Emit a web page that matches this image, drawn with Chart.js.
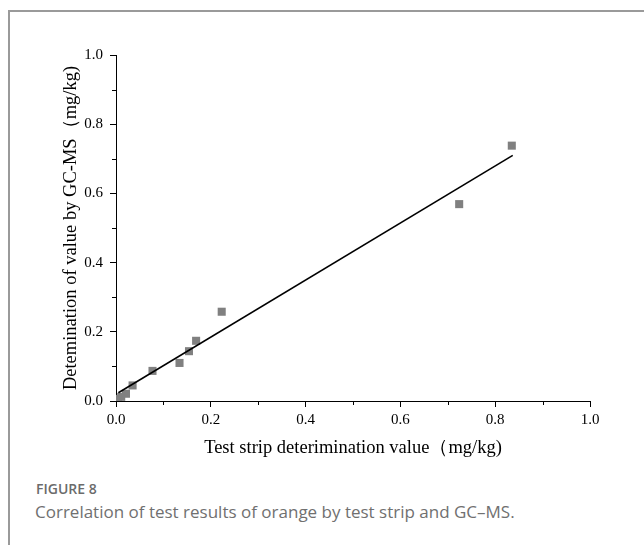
<!DOCTYPE html>
<html>
<head>
<meta charset="utf-8">
<script src="https://cdn.jsdelivr.net/npm/chart.js@4.4.1/dist/chart.umd.min.js"></script>
<style>
  html, body { margin: 0; padding: 0; background: #fff; }
  body { width: 644px; height: 545px; position: relative; overflow: hidden; }
  #frame { position: absolute; left: 8px; top: 10px; width: 700px; height: 600px;
           border-top: 2px solid #9a9a9a; border-left: 2px solid #9a9a9a; }
  #chart { position: absolute; left: 0; top: 0; }
  .fig { position: absolute; left: 36px; top: 479px; font-family: "Open Sans", sans-serif;
         font-weight: 600; font-size: 14px; color: #6b6b6b; }
  .cap { position: absolute; left: 35px; top: 500px; font-family: "Open Sans", sans-serif;
         font-size: 17px; color: #707070; white-space: nowrap; }
</style>
</head>
<body>
<div id="frame"></div>
<canvas id="chart" width="644" height="470"></canvas>
<div class="fig">FIGURE 8</div>
<div class="cap">Correlation of test results of orange by test strip and GC–MS.</div>
<script>
// measured samples: test strip value vs GC-MS value (mg/kg)
const stripValues = [0.004, 0.011, 0.021, 0.035, 0.077, 0.134, 0.154, 0.169, 0.223, 0.724, 0.835];
const gcmsValues  = [0.006, 0.012, 0.021, 0.045, 0.087, 0.110, 0.144, 0.174, 0.258, 0.569, 0.738];

// fitted line end points
const fitX = [0.005, 0.837];
const fitY = [0.024, 0.710];

const xTickLabels = ['0.0', '0.2', '0.4', '0.6', '0.8', '1.0'];
const yTickLabels = ['0.0', '0.2', '0.4', '0.6', '0.8', '1.0'];

const xTitle = 'Test strip deterimination value（mg/kg)';
const yTitle = 'Detemination of value by GC-MS（mg/kg)';

const serif = '"Liberation Serif", "Times New Roman", serif';

// short minor ticks half way between the major ones
const minorTicks = {
  id: 'minorTicks',
  afterDraw(chart) {
    const ctx = chart.ctx;
    ctx.save();
    ctx.strokeStyle = '#000';
    ctx.lineWidth = 1;
    ['x', 'y'].forEach(id => {
      const s = chart.scales[id];
      const t = s.ticks;
      for (let i = 0; i < t.length - 1; i++) {
        const mid = (t[i].value + t[i + 1].value) / 2;
        const p = Math.round(s.getPixelForValue(mid)) + 0.5;
        ctx.beginPath();
        if (id === 'x') {
          ctx.moveTo(p, s.top);
          ctx.lineTo(p, s.top + 4);
        } else {
          ctx.moveTo(s.right, p);
          ctx.lineTo(s.right - 4, p);
        }
        ctx.stroke();
      }
    });
    ctx.restore();
  }
};

const ctx = document.getElementById('chart').getContext('2d');
new Chart(ctx, {
  type: 'scatter',
  data: {
    datasets: [
      {
        type: 'line',
        data: fitX.map((x, i) => ({ x: x, y: fitY[i] })),
        borderColor: '#000',
        borderWidth: 1.6,
        pointRadius: 0,
        fill: false,
        order: 0
      },
      {
        data: stripValues.map((x, i) => ({ x: x, y: gcmsValues[i] })),
        pointStyle: 'rect',
        pointRadius: 5.7,
        backgroundColor: '#808080',
        borderWidth: 0,
        order: 1
      }
    ]
  },
  options: {
    responsive: false,
    animation: false,
    devicePixelRatio: 1,
    layout: { padding: { top: 55, right: 54, left: 0, bottom: 0 } },
    plugins: {
      legend: { display: false },
      tooltip: { enabled: false }
    },
    scales: {
      x: {
        type: 'linear',
        position: 'bottom',
        min: 0,
        max: 1,
        afterFit: s => { s.height = 69; },
        ticks: {
          stepSize: 0.2,
          autoSkip: false,
          maxRotation: 0,
          padding: 4,
          color: '#000',
          font: { family: serif, size: 15 },
          callback: (v, i) => xTickLabels[i]
        },
        grid: { drawOnChartArea: false, drawTicks: true, tickLength: 6, tickColor: '#000' },
        border: { display: true, color: '#000', width: 1 },
        title: {
          display: true,
          text: xTitle,
          color: '#000',
          font: { family: serif, size: 18.5 },
          padding: { top: 0, bottom: 11 }
        }
      },
      y: {
        type: 'linear',
        position: 'left',
        min: 0,
        max: 1,
        afterFit: s => { s.width = 116; },
        ticks: {
          stepSize: 0.2,
          autoSkip: false,
          padding: 7,
          color: '#000',
          font: { family: serif, size: 15 },
          callback: (v, i) => yTickLabels[i]
        },
        grid: { drawOnChartArea: false, drawTicks: true, tickLength: 6, tickColor: '#000' },
        border: { display: true, color: '#000', width: 1 },
        title: {
          display: true,
          text: yTitle,
          color: '#000',
          font: { family: serif, size: 18.5 },
          padding: { top: 60, bottom: 0 }
        }
      }
    }
  },
  plugins: [minorTicks]
});
</script>
</body>
</html>
